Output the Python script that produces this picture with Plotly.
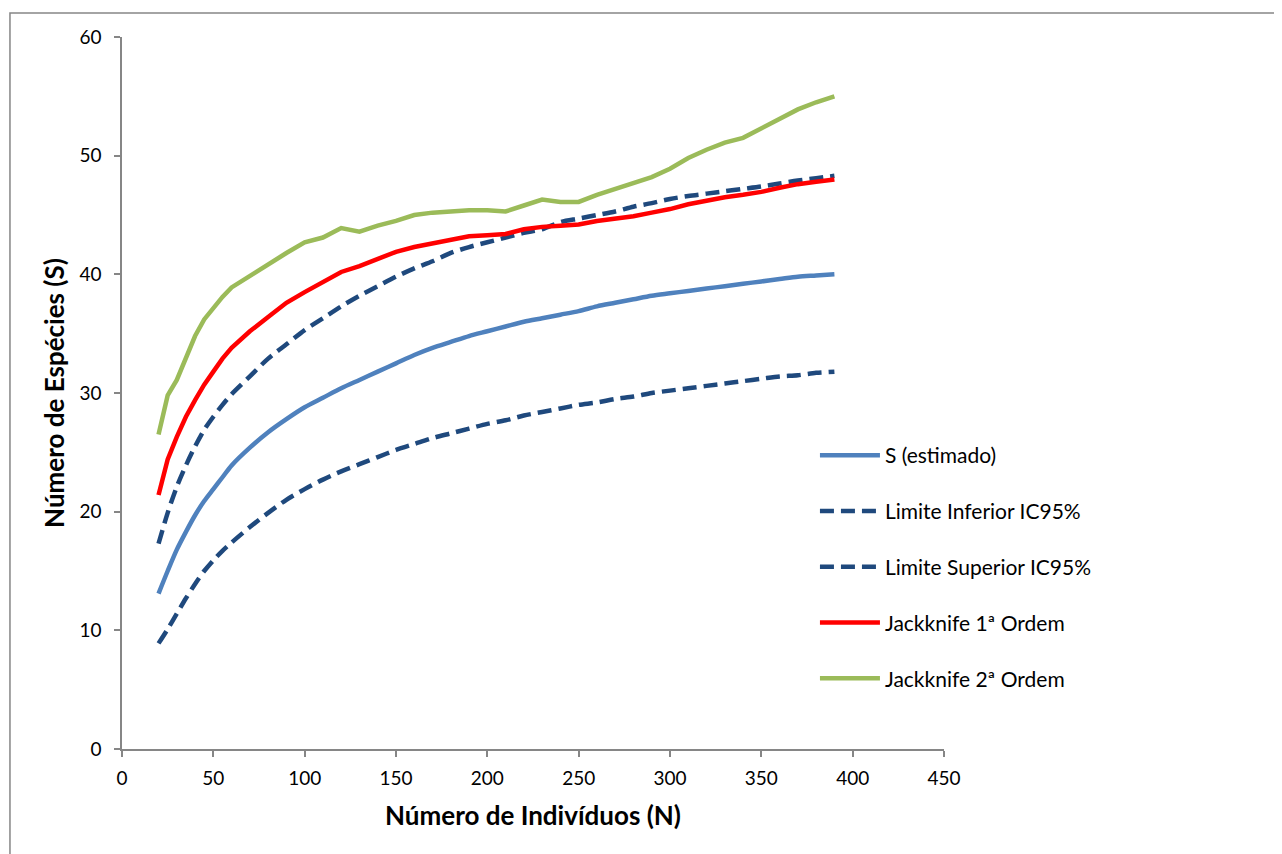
import plotly.graph_objects as go

# ---- data ----
n_individuos = [20, 25, 30, 35, 40, 45, 50, 55, 60, 70, 80, 90, 100, 110, 120, 130, 140,
                150, 160, 170, 180, 190, 200, 210, 220, 230, 240, 250, 260, 270, 280,
                290, 300, 310, 320, 330, 340, 350, 360, 370, 380, 390]

s_estimado = [13.1, 15.0, 16.8, 18.3, 19.7, 20.9, 21.9, 22.9, 23.9, 25.4, 26.7, 27.8, 28.8,
              29.6, 30.4, 31.1, 31.8, 32.5, 33.2, 33.8, 34.3, 34.8, 35.2, 35.6, 36.0, 36.3,
              36.6, 36.9, 37.3, 37.6, 37.9, 38.2, 38.4, 38.6, 38.8, 39.0, 39.2, 39.4, 39.6,
              39.8, 39.9, 40.0]

limite_inferior = [8.9, 10.1, 11.4, 12.7, 13.9, 15.0, 15.9, 16.7, 17.4, 18.7, 19.9, 21.0, 21.9,
                   22.7, 23.4, 24.0, 24.6, 25.2, 25.7, 26.2, 26.6, 27.0, 27.4, 27.7, 28.1,
                   28.4, 28.7, 29.0, 29.2, 29.5, 29.7, 30.0, 30.2, 30.4, 30.6, 30.8, 31.0,
                   31.2, 31.4, 31.5, 31.7, 31.8]

limite_superior = [17.3, 19.9, 22.1, 23.9, 25.5, 26.9, 28.0, 29.0, 29.9, 31.4, 32.9, 34.1, 35.3,
                   36.3, 37.3, 38.2, 39.0, 39.8, 40.5, 41.1, 41.8, 42.3, 42.7, 43.1, 43.5,
                   43.8, 44.4, 44.7, 45.0, 45.3, 45.7, 46.0, 46.35, 46.6, 46.8, 47.0, 47.2,
                   47.4, 47.65, 47.9, 48.1, 48.3]

jackknife_1 = [21.4, 24.4, 26.3, 28.0, 29.4, 30.7, 31.8, 32.9, 33.8, 35.2, 36.4, 37.6, 38.5,
               39.4, 40.2, 40.7, 41.3, 41.9, 42.3, 42.6, 42.9, 43.2, 43.3, 43.4, 43.8, 44.0,
               44.1, 44.2, 44.5, 44.7, 44.9, 45.2, 45.5, 45.9, 46.2, 46.5, 46.7, 46.95,
               47.3, 47.6, 47.8, 48.0]

jackknife_2 = [26.5, 29.8, 31.1, 33.0, 34.8, 36.2, 37.2, 38.1, 38.9, 39.9, 40.9, 41.8, 42.7,
               43.1, 43.9, 43.6, 44.1, 44.5, 45.0, 45.2, 45.3, 45.4, 45.4, 45.3, 45.8, 46.3,
               46.1, 46.1, 46.7, 47.2, 47.7, 48.2, 48.9, 49.8, 50.5, 51.1, 51.5, 52.3, 53.2,
               53.9, 54.5, 55.0]

x_ticks = [0, 50, 100, 150, 200, 250, 300, 350, 400, 450]
y_ticks = [0, 10, 20, 30, 40, 50, 60]

FONT = "Lato"
GRAY = "#868686"

fig = go.Figure()

series = [
    ("S (estimado)", s_estimado, "#4F81BD", "solid", "spline"),
    ("Limite Inferior IC95%", limite_inferior, "#1F497D", "14px,7px", "spline"),
    ("Limite Superior IC95%", limite_superior, "#1F497D", "14px,7px", "spline"),
    ("Jackknife 1ª Ordem", jackknife_1, "#FF0000", "solid", "linear"),
    ("Jackknife 2ª Ordem", jackknife_2, "#9BBB59", "solid", "linear"),
]
for i, (name, vals, color, dash, shape) in enumerate(series):
    fig.add_trace(go.Scatter(
        x=n_individuos, y=vals, name=name, mode="lines",
        line=dict(color=color, width=4.5, dash=dash, shape=shape, smoothing=0.8),
        legendgroup=f"g{i}",
    ))

fig.update_layout(
    width=1274, height=846,
    margin=dict(l=114, r=338, t=29, b=105),
    plot_bgcolor="white", paper_bgcolor="white",
    font=dict(family=FONT, size=19, color="black"),
    showlegend=True,
    legend=dict(
        x=0.843, y=0.441, xanchor="left", yanchor="top",
        bgcolor="rgba(0,0,0,0)", font=dict(family=FONT, size=21, color="black"),
        tracegroupgap=25.5, itemwidth=60,
    ),
    xaxis=dict(
        range=[0, 450], tickvals=x_ticks, ticktext=[str(v) for v in x_ticks],
        showgrid=False, zeroline=False, showline=True, linecolor=GRAY, linewidth=1.5,
        ticks="outside", ticklen=6, tickcolor=GRAY, tickwidth=1.5,
        tickfont=dict(family=FONT, size=19), ticklabelstandoff=5,
        title=dict(text="<b>Número de Indivíduos (N)</b>", font=dict(family=FONT, size=26), standoff=19),
    ),
    yaxis=dict(
        range=[0, 60], tickvals=y_ticks, ticktext=[str(v) for v in y_ticks],
        showgrid=False, zeroline=False, showline=True, linecolor=GRAY, linewidth=1.5,
        ticks="outside", ticklen=6, tickcolor=GRAY, tickwidth=1.5,
        tickfont=dict(family=FONT, size=19), ticklabelstandoff=9,
        title=dict(text="<b>Número de Espécies (S)</b>", font=dict(family=FONT, size=26), standoff=7),
    ),
    shapes=[dict(
        type="rect", xref="paper", yref="paper",
        x0=-0.1363, x1=1.6, y0=-0.3, y1=1.0337,
        line=dict(color=GRAY, width=1.5), fillcolor="rgba(0,0,0,0)", layer="below",
    )],
)

fig.write_html("out.html")
